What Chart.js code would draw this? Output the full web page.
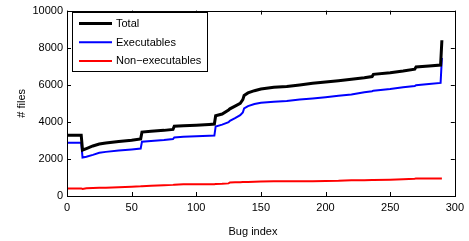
<!DOCTYPE html>
<html>
<head>
<meta charset="utf-8">
<script src="https://cdn.jsdelivr.net/npm/chart.js@4/dist/chart.umd.min.js"></script>
<style>
  html, body { margin: 0; padding: 0; background: #fff; }
  #wrap { width: 469px; height: 241px; }
</style>
</head>
<body>
<div id="wrap"><canvas id="bugChart" width="469" height="241"></canvas></div>
<script>
// Indices des bugs (les doublons marquent les sauts verticaux)
const bugIndex = [0, 11, 12, 15, 20, 25, 30, 40, 50, 57, 58, 65, 75, 82, 83, 90, 100, 110, 114, 115,
  120, 125, 126, 130, 134, 136, 137, 140, 145, 150, 160, 170, 180, 190, 200, 210, 220, 230, 236, 237,
  250, 260, 269, 270, 280, 289, 290];

const totalFiles = [3280, 3280, 2480, 2560, 2700, 2800, 2860, 2940, 3010, 3080, 3450, 3490, 3540, 3590, 3760, 3790, 3820, 3860, 3880, 4330,
  4420, 4640, 4700, 4850, 5000, 5200, 5420, 5560, 5680, 5770, 5860, 5910, 5990, 6080, 6150, 6220, 6300, 6380, 6440, 6560,
  6650, 6740, 6840, 6960, 7010, 7060, 8400];

const execFiles = [2870, 2870, 2080, 2120, 2220, 2330, 2380, 2450, 2510, 2560, 2930, 2970, 3020, 3070, 3160, 3190, 3220, 3250, 3260, 3750,
  3850, 3980, 4050, 4200, 4360, 4500, 4720, 4850, 4960, 5030, 5090, 5120, 5200, 5260, 5330, 5410, 5480, 5590, 5650, 5680,
  5770, 5860, 5930, 5980, 6040, 6100, 7450];

const nonExecFiles = [400, 410, 380, 420, 430, 440, 450, 470, 500, 520, 530, 550, 580, 600, 610, 630, 640, 640, 640, 650,
  660, 680, 730, 740, 740, 750, 750, 760, 770, 780, 800, 800, 800, 800, 810, 820, 850, 850, 860, 860,
  880, 900, 930, 950, 950, 950, 950];

const xTicks = [0, 50, 100, 150, 200, 250, 300];
const yTicks = [0, 2000, 4000, 6000, 8000, 10000];

const FONT = "'Liberation Sans', Arial, Helvetica, sans-serif";

function toPoints(values) {
  return bugIndex.map((x, i) => ({ x: x, y: values[i] }));
}

// Cadre + graduations vers l'intérieur (style Matlab) + légende dans le coin
const matlabFrame = {
  id: "matlabFrame",
  afterDatasetsDraw(chart) {
    const ctx = chart.ctx;
    const a = chart.chartArea;
    const xs = chart.scales.x;
    const ys = chart.scales.y;
    const tl = 4;
    ctx.save();
    ctx.strokeStyle = "#000";
    ctx.lineWidth = 1;
    ctx.beginPath();
    xTicks.forEach(v => {
      const px = Math.round(xs.getPixelForValue(v)) + 0.5;
      ctx.moveTo(px, a.bottom); ctx.lineTo(px, a.bottom - tl);
      ctx.moveTo(px, a.top); ctx.lineTo(px, a.top + tl);
    });
    yTicks.forEach(v => {
      const py = Math.round(ys.getPixelForValue(v)) + 0.5;
      ctx.moveTo(a.left, py); ctx.lineTo(a.left + tl, py);
      ctx.moveTo(a.right, py); ctx.lineTo(a.right - tl, py);
    });
    ctx.stroke();
    ctx.strokeRect(Math.round(a.left) + 0.5, Math.round(a.top) + 0.5,
      Math.round(a.right - a.left), Math.round(a.bottom - a.top));

    // titre de l'axe x (un peu décalé à gauche comme dans l'original)
    ctx.font = "11px " + FONT;
    ctx.fillStyle = "#000";
    ctx.textAlign = "center";
    ctx.textBaseline = "middle";
    ctx.fillText("Bug index", 253, 232);

    // légende
    const lx = 72.5, ly = 12.5, lw = 135, lh = 59;
    ctx.fillStyle = "#fff";
    ctx.fillRect(lx, ly, lw, lh);
    ctx.strokeRect(lx, ly, lw, lh);
    ctx.textAlign = "left";
    chart.data.datasets.forEach((ds, i) => {
      const y = 23.5 + i * 18.7;
      ctx.strokeStyle = ds.borderColor;
      ctx.lineWidth = ds.borderWidth;
      ctx.beginPath();
      ctx.moveTo(79, y); ctx.lineTo(112, y);
      ctx.stroke();
      ctx.fillStyle = "#000";
      ctx.fillText(ds.label, 116, y + 0.5);
    });
    ctx.restore();
  }
};

const ctx = document.getElementById("bugChart").getContext("2d");
new Chart(ctx, {
  type: "line",
  data: {
    datasets: [
      { label: "Total", data: toPoints(totalFiles), borderColor: "#000000", borderWidth: 3 },
      { label: "Executables", data: toPoints(execFiles), borderColor: "#0000ff", borderWidth: 2 },
      { label: "Non\u2212executables", data: toPoints(nonExecFiles), borderColor: "#ff0000", borderWidth: 2 }
    ]
  },
  options: {
    responsive: false,
    animation: false,
    devicePixelRatio: 1,
    layout: { padding: { left: 0, right: 12, top: 7, bottom: 0 } },
    elements: {
      point: { radius: 0, hoverRadius: 0 },
      line: { tension: 0, fill: false, borderJoinStyle: "miter", borderCapStyle: "butt" }
    },
    plugins: {
      legend: { display: false },
      tooltip: { enabled: false }
    },
    scales: {
      x: {
        type: "linear",
        min: 0,
        max: 300,
        afterBuildTicks: scale => { scale.ticks = xTicks.map(v => ({ value: v })); },
        afterFit: scale => { scale.height = 45; },
        grid: { display: false, drawTicks: false },
        border: { display: false },
        ticks: { color: "#000", padding: 5, maxRotation: 0, font: { family: FONT, size: 11 } },
        title: { display: false }
      },
      y: {
        type: "linear",
        min: 0,
        max: 10000,
        afterBuildTicks: scale => { scale.ticks = yTicks.map(v => ({ value: v })); },
        afterFit: scale => { scale.width = 67; },
        grid: { display: false, drawTicks: false },
        border: { display: false },
        ticks: { color: "#000", padding: 4, font: { family: FONT, size: 11 }, callback: v => String(v) },
        title: { display: true, text: "# files", color: "#000", padding: { top: 15, bottom: 0 }, font: { family: FONT, size: 11 } }
      }
    }
  },
  plugins: [matlabFrame]
});
</script>
</body>
</html>
